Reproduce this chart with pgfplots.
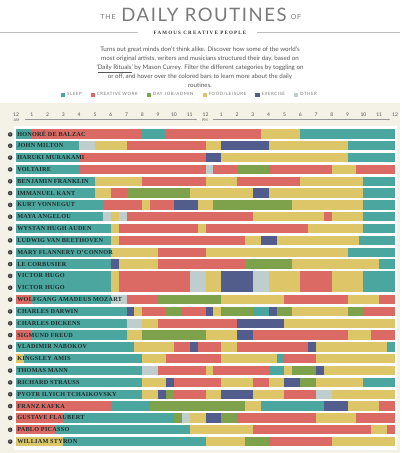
\documentclass[border=0pt]{standalone}
\usepackage{fontspec}
\usepackage{pgfplots}
\pgfplotsset{compat=1.18}
\usepackage{pgfplotstable}
\usetikzlibrary{arrows.meta}
\setmainfont{Lato}
\newfontfamily\namefont{Liberation Serif}[LetterSpace=4]
\newfontfamily\headfont{Liberation Serif}[LetterSpace=24]
\newfontfamily\titlefont{Lato}[LetterSpace=8.5]
\newfontfamily\spacedfont{Lato}[LetterSpace=12]
\definecolor{csleep}{HTML}{4BA69F}
\definecolor{ccreative}{HTML}{DA6A63}
\definecolor{cday}{HTML}{7DA24B}
\definecolor{cfood}{HTML}{DCC668}
\definecolor{cexercise}{HTML}{525D8E}
\definecolor{cother}{HTML}{BFCDCD}
\definecolor{beige}{HTML}{F4F1E6}
\definecolor{titlegray}{HTML}{7A7A7A}
\definecolor{textgray}{HTML}{555555}
\definecolor{leggray}{HTML}{7A7A7A}
\definecolor{namecol}{HTML}{1D2B2B}
\definecolor{icondark}{HTML}{3A3A3A}
\definecolor{rulegray}{HTML}{BDBDBD}
\newcommand\infoicon{\tikz[baseline={(0pt,-2.05pt)}]\node[circle,fill=icondark,inner sep=0pt,minimum size=4.6pt,anchor=center,text=white,font=\fontsize{3.6}{3.6}\selectfont\bfseries]{i};}
\newcommand\nm[1]{\infoicon\hspace{4.8pt}#1}

\pgfplotstableread{
r s e
1 0 1
1 8 9.5
1 18 24
2 0 4
2 21 24
3 0 4
3 21 24
4 0 4
5 0 5
5 22 24
6 0 5
6 22 24
7 0 5.5
7 22 24
8 0 5.5
8 22 24
9 0 6
9 22 24
10 0 6
10 21.7 24
11 0 6
11 21 24
12 0 6
12 23 24
13 0 6
13.5 0 6
14 0 6
13 22 24
13.5 22 24
14 22 24
15 1 6
16 0 7
16 15 16
17 0 7
18 1 7
19 0 7.5
19 23.5 24
20 0.5 8
20 16.5 17
21 0 8
21 16 17
22 0 8
22 22 24
23 0 8
24 6 8.5
24 15.5 19.5
25 3 10
26 2.5 11
27 3 12
}\tsleep

\pgfplotstableread{
r s e
1 1 8
1 9.5 15.5
2 7 12
3 4 12
4 4 12
4 12.5 14
4 16 20
4 21.5 24
5 8 12
5 14 18
6 6 7
7 5.5 8
7 8.5 10
8 7 15
8 19.5 20
9 6.5 11.5
9 12 18.5
10 6.5 14.5
11 9 12
12 9 14.5
13 6.5 11
13.5 6.5 11
14 6.5 11
13 18 20
13.5 18 20
14 18 20
15 0 1
15 7 9
15 17 21
15 23 24
16 8 9.5
16 10.5 12
16 22 24
17 9 14
18 0 1
18 15 21
18 22.5 24
19 10 11
19 11.5 13
19 14 18.5
20 9.5 13
20 17 19
21 9 12
21 12.5 16
22 10 13
22 15 16
23 10 12
23 17 19
24 0 6
24 23 24
25 0 3
25 14 19
25 21.5 24
26 0 2.5
26 15 22.5
26 23.5 24
27 16 20
}\tcreative

\pgfplotstableread{
r s e
4 14 16
6 7 11
7 12.5 17.5
12 14.5 17.5
15 9 13
16 9.5 10.5
16 13 15
16 16.5 17.5
16 21 22
18 8 12
21 17.5 19
22 18 19
23 9.5 10
24 8.5 14.5
25 10 10.5
25 13 14
27 14.5 16
}\tday

\pgfplotstableread{
r s e
1 15.5 18
2 5 7
2 12 13
2 16 21
3 13 21
4 20 21.5
5 5 8
5 12 14
5 18 22
6 5 6
6 11 15
6 16 22
7 8 8.5
7 11.5 12.5
7 17.5 22
8 6 6.5
8 15 19.5
8 20 22
9 6 6.5
9 11.5 12
9 18.5 22
10 6 6.5
10 14.5 15.5
10 16.5 21.7
11 6 9
11 12 21
12 6.5 9
12 17.5 23
13 6 6.5
13.5 6 6.5
14 6 6.5
13 12 13
13.5 12 13
14 12 13
13 16 18
13.5 16 18
14 16 18
13 20 22
13.5 20 22
14 20 22
15 13 17
15 21 23
16 7.5 8
16 12.5 13
16 17.5 21
17 8 9
17 17 24
18 7 8
18 12 14
18 21 22.5
19 7.5 10
19 13 14
19 19 23.5
20 0 0.5
20 8 9.5
20 13 16.5
20 19 24
21 12 12.5
21 17 17.5
21 19.5 24
22 8 9.5
22 13 15
22 16 17
22 19 22
23 8 9
23 12 13
23 15 17
23 20 24
24 14.5 15.5
24 21 23
25 11 12
25 19 21.5
26 11 15
26 22.5 23.5
27 0 3
27 12 14.5
27 20 24
}\tfood

\pgfplotstableread{
r s e
2 13 16
3 12 13
6 15 16
7 10 11.5
10 15.5 16.5
12 6 6.5
13 13 15
13.5 13 15
14 13 15
16 7 7.5
16 12 12.5
16 16 16.5
17 14 17
18 14 15
19 11 11.5
19 18.5 19
21 19 19.5
22 9.5 10
22 17 18
23 9 9.5
23 13 15
24 19.5 21
25 12 13
}\texercise

\pgfplotstableread{
r s e
2 4 5
4 12 12.5
8 5.5 6
8 6.5 7
13 11 12
13.5 11 12
14 11 12
13 15 16
13.5 15 16
14 15 16
15 6 7
17 7 8
21 8 9
23 19 20
25 10.5 11
}\tother

\pgfplotsset{
  seg/.style={only marks, mark size=0pt, mark options={draw=none, fill=none}, forget plot,
    error bars/.cd, x dir=plus, x explicit, error mark=none,
    error bar style={line width=9.3pt, draw=#1, line cap=butt}},
  sqleg/.style={legend image code/.code={\fill[##1, draw=none] (0pt,-2.1pt) rectangle (4.2pt,2.1pt);}},
}

\begin{document}
\begin{tikzpicture}
\begin{scope}[x=1pt,y=1pt]
\path[use as bounding box] (0,0) rectangle (400,-453);
\fill[white] (0,0) rectangle (400,-103);
\fill[beige] (0,-103) rectangle (400,-453);
\fill[white] (14,-126) rectangle (397,-449.5);
% header
\node[anchor=base, inner sep=0pt, text=titlegray, font=\titlefont\fontsize{18.5}{18.5}\selectfont] at (204,-21.7) {DAILY ROUTINES};
\node[anchor=base, inner sep=0pt, text=titlegray, font=\spacedfont\fontsize{7}{7}\selectfont] at (108,-19.3) {THE};
\node[anchor=base, inner sep=0pt, text=titlegray, font=\spacedfont\fontsize{7}{7}\selectfont] at (296,-19.3) {OF};
\draw[rulegray, line width=0.5pt] (0,-32.3) -- (138,-32.3);
\draw[rulegray, line width=0.5pt] (257,-32.3) -- (400,-32.3);
\node[anchor=base, inner sep=0pt, text=black!80, font=\headfont\bfseries\fontsize{5}{5}\selectfont] at (200,-34.3) {FAMOUS CREATIVE PEOPLE};
\node[anchor=north, inner sep=0pt, align=center, text=textgray, font=\fontsize{6.2}{8.8}\selectfont] at (200,-47) {Turns out great minds don’t think alike. Discover how some of the world’s\\most original artists, writers and musicians structured their day, based on\\‘\underline{Daily Rituals}’ by Mason Currey. Filter the different categories by toggling on\\or off, and hover over the colored bars to learn more about the daily\\routines.};
% AM / PM
\node[inner sep=0pt, text=textgray, font=\fontsize{3.6}{3.6}\selectfont] at (16.5,-120) {AM};
\node[inner sep=0pt, text=textgray, font=\fontsize{3.6}{3.6}\selectfont] at (205,-120) {PM};
\draw[rulegray!80!black, line width=0.35pt, -{Stealth[length=2pt,width=1.6pt]}] (25,-119.5) -- (197,-119.5);
\draw[rulegray!80!black, line width=0.35pt, -{Stealth[length=2pt,width=1.6pt]}] (213,-119.5) -- (390,-119.5);
\end{scope}

\begin{axis}[
  at={(16pt,-128pt)}, anchor=north west,
  scale only axis, width=379pt, height=319.5pt,
  xmin=0, xmax=24, ymin=0.5, ymax=27.5, y dir=reverse,
  axis line style={draw=none}, major tick length=0pt, tick style={draw=none},
  clip=false, axis on top,
  xtick={0,...,24},
  xticklabels={12,1,2,3,4,5,6,7,8,9,10,11,12,1,2,3,4,5,6,7,8,9,10,11,12},
  xticklabel pos=upper,
  x tick label style={font=\fontsize{5}{5}\selectfont, text=textgray, yshift=7.5pt},
  /pgf/number format/assume math mode=true,
  ytick={1,...,27},
  yticklabels={\nm{HONORÉ DE BALZAC},\nm{JOHN MILTON},\nm{HARUKI MURAKAMI},\nm{VOLTAIRE},\nm{BENJAMIN FRANKLIN},\nm{IMMANUEL KANT},\nm{KURT VONNEGUT},\nm{MAYA ANGELOU},\nm{WYSTAN HUGH AUDEN},\nm{LUDWIG VAN BEETHOVEN},\nm{MARY FLANNERY O’CONNOR},\nm{LE CORBUSIER},\nm{VICTOR HUGO},\nm{VICTOR HUGO},\nm{WOLFGANG AMADEUS MOZART},\nm{CHARLES DARWIN},\nm{CHARLES DICKENS},\nm{SIGMUND FREUD},\nm{VLADIMIR NABOKOV},\nm{KINGSLEY AMIS},\nm{THOMAS MANN},\nm{RICHARD STRAUSS},\nm{PYOTR ILYICH TCHAIKOVSKY},\nm{FRANZ KAFKA},\nm{GUSTAVE FLAUBERT},\nm{PABLO PICASSO},\nm{WILLIAM STYRON}},
  y tick label style={anchor=west, inner sep=0pt, xshift=-8.3pt, font=\namefont\bfseries\fontsize{6.2}{6.2}\selectfont, text=namecol},
  legend style={at={(0.459,1.1033)}, anchor=center, draw=none, fill=none,
    legend columns=-1, inner sep=0pt,
    font=\spacedfont\fontsize{4.4}{4.4}\selectfont, text=leggray,
    /tikz/every even column/.append style={column sep=7pt}},
  legend cell align=left,
]
\addlegendimage{sqleg, fill=csleep}
\addlegendentry{SLEEP}
\addlegendimage{sqleg, fill=ccreative}
\addlegendentry{CREATIVE WORK}
\addlegendimage{sqleg, fill=cday}
\addlegendentry{DAY JOB/ADMIN}
\addlegendimage{sqleg, fill=cfood}
\addlegendentry{FOOD/LEISURE}
\addlegendimage{sqleg, fill=cexercise}
\addlegendentry{EXERCISE}
\addlegendimage{sqleg, fill=cother}
\addlegendentry{OTHER}

\addplot[seg=csleep] table[x=s, y=r, x error plus expr=\thisrow{e}-\thisrow{s}] {\tsleep};
\addplot[seg=ccreative] table[x=s, y=r, x error plus expr=\thisrow{e}-\thisrow{s}] {\tcreative};
\addplot[seg=cday] table[x=s, y=r, x error plus expr=\thisrow{e}-\thisrow{s}] {\tday};
\addplot[seg=cfood] table[x=s, y=r, x error plus expr=\thisrow{e}-\thisrow{s}] {\tfood};
\addplot[seg=cexercise] table[x=s, y=r, x error plus expr=\thisrow{e}-\thisrow{s}] {\texercise};
\addplot[seg=cother] table[x=s, y=r, x error plus expr=\thisrow{e}-\thisrow{s}] {\tother};
\end{axis}
\end{tikzpicture}
\end{document}
